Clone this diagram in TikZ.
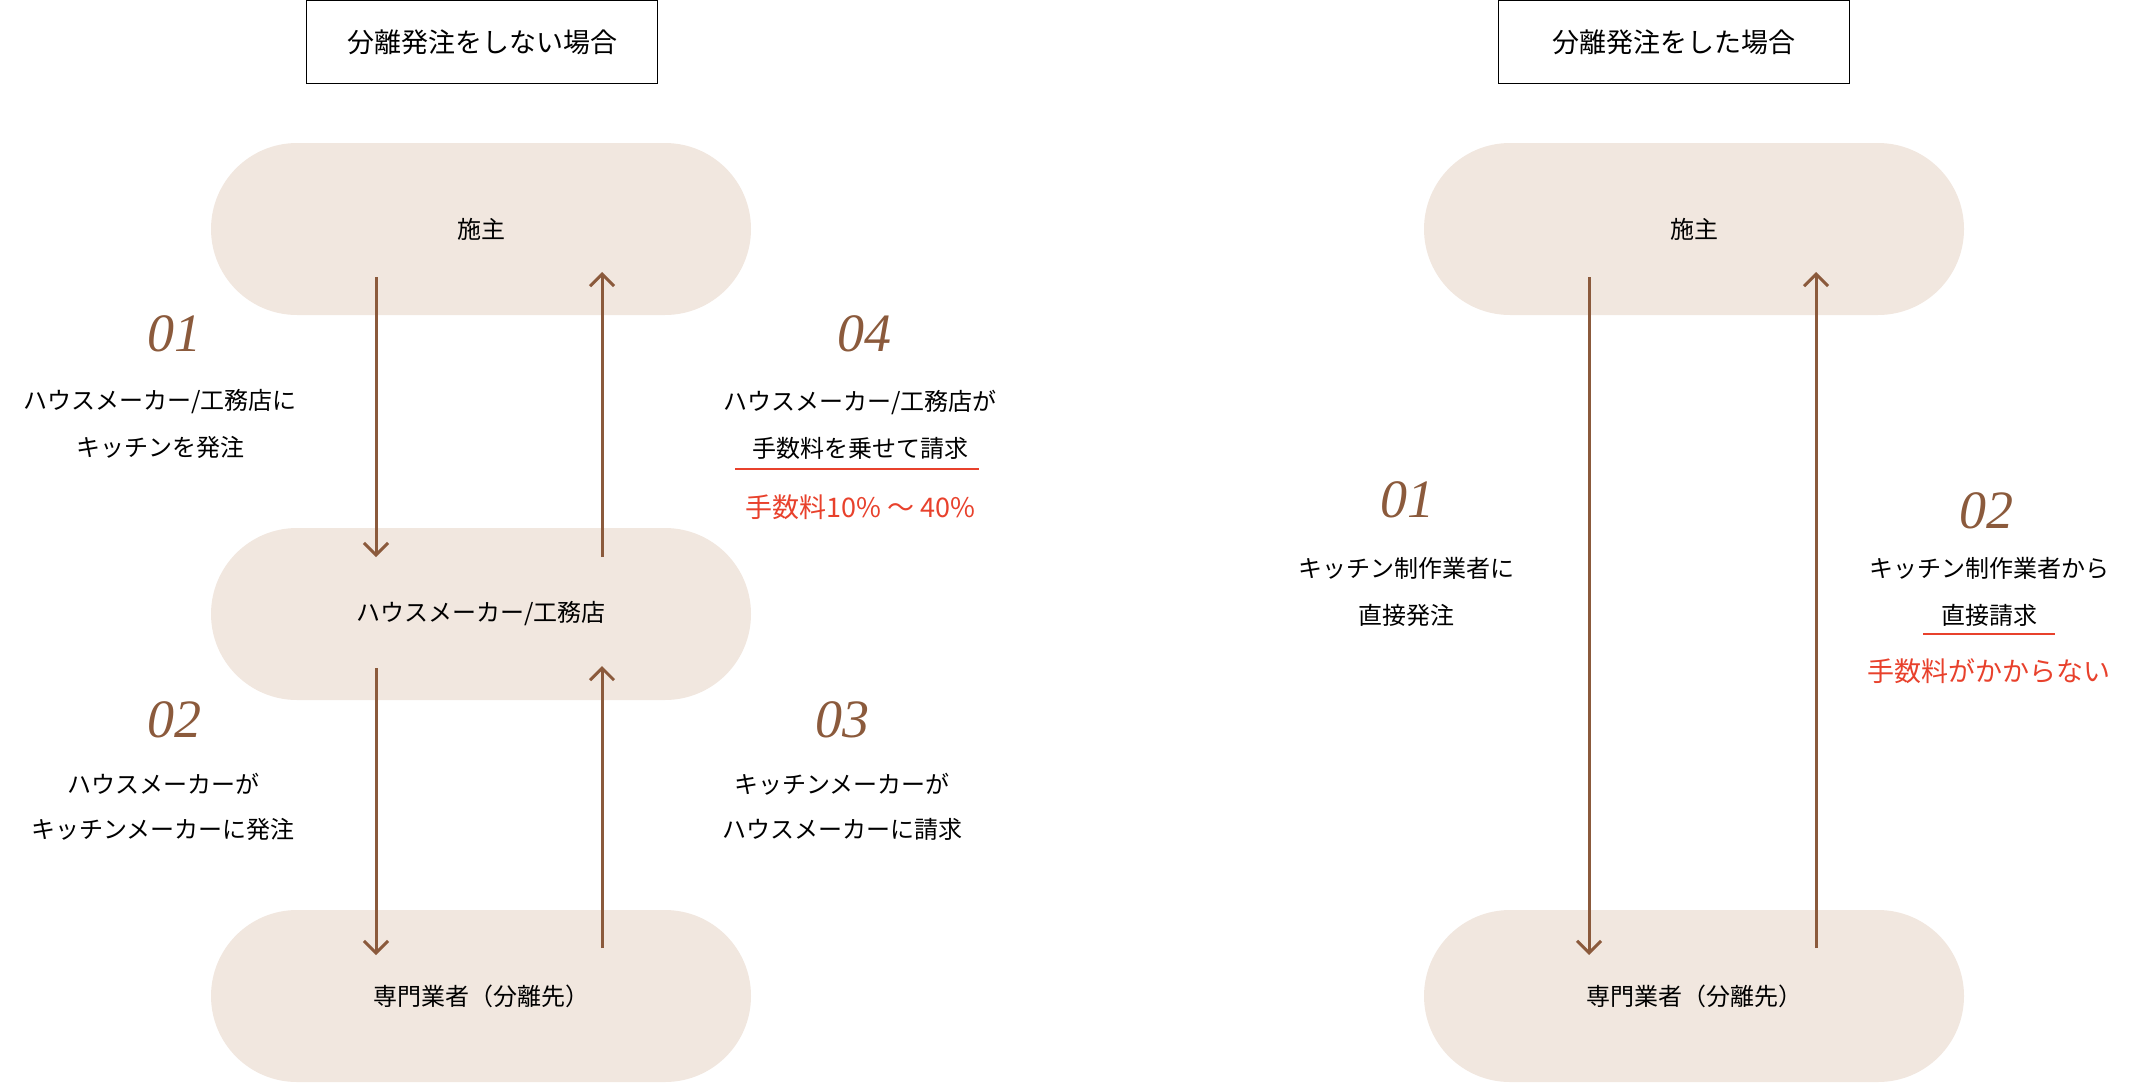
\documentclass[tikz,border=0pt]{standalone}
\usepackage{fontspec}
\setmainfont{Noto Sans CJK JP}
\newfontfamily\numfont{Liberation Serif}
\usetikzlibrary{arrows.meta}
\definecolor{pill}{HTML}{F1E7DF}
\definecolor{brn}{HTML}{8B5A3C}
\definecolor{rd}{HTML}{E8412C}
\tikzset{
 pillbox/.style={fill=pill,draw=none,rounded corners=86pt,minimum width=540pt,minimum height=172pt,font=\fontsize{24}{28}\selectfont},
 titlebox/.style={draw=black,line width=1.6pt,minimum width=351pt,minimum height=83pt,font=\fontsize{27}{32}\selectfont},
 arr/.style={draw=brn,line width=3pt,-{Straight Barb[length=12pt,width=24pt,line width=3pt]}},
 num/.style={text=brn,font=\numfont\itshape\fontsize{54}{60}\selectfont},
 lbl/.style={font=\fontsize{24}{28}\selectfont,align=center},
 red/.style={text=rd,font=\fontsize{27}{32}\selectfont},
 uline/.style={draw=rd,line width=2pt}
}
\begin{document}
\begin{tikzpicture}[x=1pt,y=-1pt]
\useasboundingbox (0,0) rectangle (2130,1084);
\node[titlebox] (t1) at (482,42) {分離発注をしない場合};
\node[titlebox] (t2) at (1674,42) {分離発注をした場合};
\node[pillbox] (a1) at (481,229) {施主};
\node[pillbox] (b1) at (481,614) {ハウスメーカー/工務店};
\node[pillbox] (c1) at (481,996) {専門業者（分離先）};
\node[pillbox] (a2) at (1694,229) {施主};
\node[pillbox] (c2) at (1694,996) {専門業者（分離先）};
% arrows left
\coordinate (p1) at (376,277); \coordinate (p2) at (376,557);
\coordinate (p3) at (602,557); \coordinate (p4) at (602,272);
\coordinate (p5) at (376,668); \coordinate (p6) at (376,955);
\coordinate (p7) at (602,948); \coordinate (p8) at (602,666);
\draw[arr] (p1) -- (p2);
\draw[arr] (p3) -- (p4);
\draw[arr] (p5) -- (p6);
\draw[arr] (p7) -- (p8);
\coordinate (q1) at (1589,277); \coordinate (q2) at (1589,955);
\coordinate (q3) at (1816,948); \coordinate (q4) at (1816,272);
\draw[arr] (q1) -- (q2);
\draw[arr] (q3) -- (q4);
% labels left
\node[num] (n1) at (174,334) {01};
\node[lbl] (l1a) at (160,402) {ハウスメーカー/工務店に};
\node[lbl] (l1b) at (160,447) {キッチンを発注};
\node[num] (n4) at (864,334) {04};
\node[lbl] (l4a) at (860,402) {ハウスメーカー/工務店が};
\node[lbl] (l4b) at (860,448) {手数料を乗せて請求};
\coordinate (u1) at (735,469); \coordinate (u2) at (979,469);
\draw[uline] (u1) -- (u2);
\node[red] (r4) at (860,507) {手数料10\% 〜 40\%};
\node[num] (n2) at (174,720) {02};
\node[lbl] (l2a) at (163,784) {ハウスメーカーが};
\node[lbl] (l2b) at (163,829) {キッチンメーカーに発注};
\node[num] (n3) at (842,720) {03};
\node[lbl] (l3a) at (842,784) {キッチンメーカーが};
\node[lbl] (l3b) at (842,829) {ハウスメーカーに請求};
% labels right
\node[num] (m1) at (1407,500) {01};
\node[lbl] (k1a) at (1406,568) {キッチン制作業者に};
\node[lbl] (k1b) at (1406,615) {直接発注};
\node[num] (m2) at (1986,511) {02};
\node[lbl] (k2a) at (1989,568) {キッチン制作業者から};
\node[lbl] (k2b) at (1989,615) {直接請求};
\coordinate (v1) at (1923,634); \coordinate (v2) at (2055,634);
\draw[uline] (v1) -- (v2);
\node[red] (r2) at (1989,671) {手数料がかからない};
\end{tikzpicture}
\end{document}
